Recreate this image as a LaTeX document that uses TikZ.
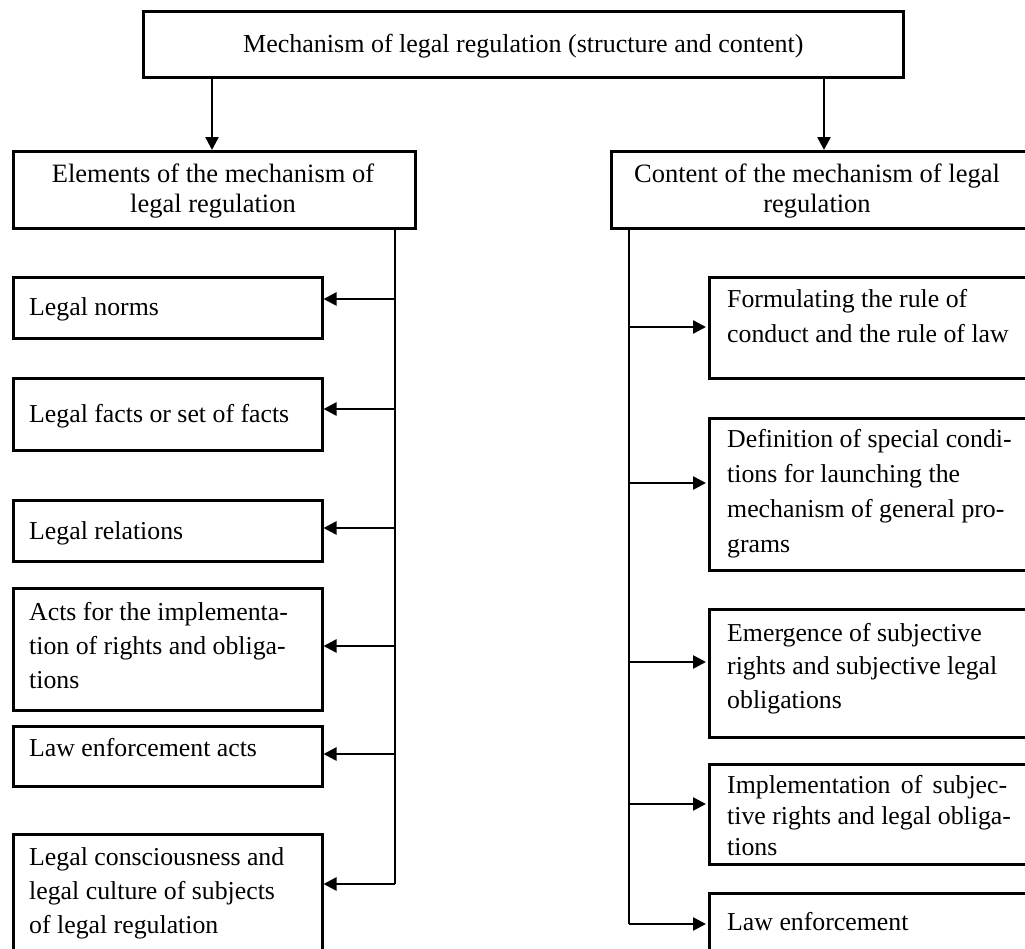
\documentclass[tikz,border=0pt]{standalone}
\usepackage{fontspec}
\setmainfont{Liberation Serif}
\usetikzlibrary{arrows.meta}
\begin{document}
\begin{tikzpicture}[x=1pt,y=-1pt,
  box/.style={draw, line width=2.5pt, rectangle, inner sep=0pt, anchor=north west},
  txt/.style={inner sep=0pt, anchor=base west, align=left, font=\fontsize{25.8}{35}\selectfont},
  htxt/.style={inner sep=0pt, anchor=base, align=center, font=\fontsize{26.5}{30}\selectfont},
  ln/.style={line width=2.5pt},
  arr/.style={line width=2.5pt, -{Triangle[length=13pt,width=13pt]}}]
\useasboundingbox (0,0) rectangle (1025,948);
\clip (0,0) rectangle (1025,948);
% boxes
\node[box, minimum width=760pt, minimum height=66pt] (top) at (142,10) {};
\node[box, minimum width=402pt, minimum height=77pt] (lhead) at (12,150) {};
\node[box, minimum width=450pt, minimum height=77pt] (rhead) at (610,150) {};
\node[box, minimum width=309pt, minimum height=61pt] (L1) at (12,276) {};
\node[box, minimum width=309pt, minimum height=72pt] (L2) at (12,377) {};
\node[box, minimum width=309pt, minimum height=61pt] (L3) at (12,499) {};
\node[box, minimum width=309pt, minimum height=122pt] (L4) at (12,587) {};
\node[box, minimum width=309pt, minimum height=60pt] (L5) at (12,725) {};
\node[box, minimum width=309pt, minimum height=140pt] (L6) at (12,833) {};
\node[box, minimum width=350pt, minimum height=101pt] (R1) at (708,276) {};
\node[box, minimum width=350pt, minimum height=152pt] (R2) at (708,417) {};
\node[box, minimum width=350pt, minimum height=128pt] (R3) at (708,608) {};
\node[box, minimum width=350pt, minimum height=100pt] (R4) at (708,763) {};
\node[box, minimum width=350pt, minimum height=100pt] (R5) at (708,892) {};
% texts (multi-line nodes are placed at the baseline of their last line)
\node[txt, font=\fontsize{26}{30}\selectfont] (ttop) at (243,52) {Mechanism of legal regulation (structure and content)};
\node[htxt] (tlhead) at (213,212) {Elements of the mechanism of\\legal regulation};
\node[htxt] (trhead) at (817,212) {Content of the mechanism of legal\\regulation};
\node[txt] (tL1) at (29,315) {Legal norms};
\node[txt] (tL2) at (29,422) {Legal facts or set of facts};
\node[txt] (tL3) at (29,539) {Legal relations};
\node[txt, font=\fontsize{25.8}{34}\selectfont] (tL4) at (29,688) {Acts for the implementa-\\tion of rights and obliga-\\tions};
\node[txt] (tL5) at (29,756) {Law enforcement acts};
\node[txt, font=\fontsize{25.8}{34}\selectfont] (tL6) at (29,933) {Legal consciousness and\\legal culture of subjects\\of legal regulation};
\node[txt] (tR1) at (727,342) {Formulating the rule of\\conduct and the rule of law};
\node[txt, font=\fontsize{25.8}{34.7}\selectfont] (tR2) at (727,552) {Definition of special condi-\\tions for launching the\\mechanism of general pro-\\grams};
\node[txt, font=\fontsize{25.8}{33.5}\selectfont] (tR3) at (727,708) {Emergence of subjective\\rights and subjective legal\\obligations};
\node[txt, font=\fontsize{25.8}{31}\selectfont] (tR4) at (727,855) {\makebox[280pt][s]{Implementation of subjec-}\\tive rights and legal obliga-\\tions};
\node[txt] (tR5) at (727,930) {Law enforcement};
% connector coordinates
\coordinate (c1) at (212,0);
\coordinate (c2) at (824,0);
\coordinate (a1) at (395,299);
\coordinate (a2) at (395,409);
\coordinate (a3) at (395,528);
\coordinate (a4) at (395,646);
\coordinate (a5) at (395,754);
\coordinate (a6) at (395,884);
\coordinate (b1) at (629,327);
\coordinate (b2) at (629,483);
\coordinate (b3) at (629,662);
\coordinate (b4) at (629,804);
\coordinate (b5) at (629,924);
% connectors
\draw[arr] (top.south -| c1) -- (lhead.north -| c1);
\draw[arr] (top.south -| c2) -- (rhead.north -| c2);
\draw[ln] (lhead.south -| a1) -- (a6);
\draw[ln] (rhead.south -| b1) -- (b5);
\foreach \i in {1,...,6} {\draw[arr] (a\i) -- (a\i -| L\i.east);}
\foreach \i in {1,...,5} {\draw[arr, shorten >=2pt] (b\i) -- (b\i -| R\i.west);}
\end{tikzpicture}
\end{document}
